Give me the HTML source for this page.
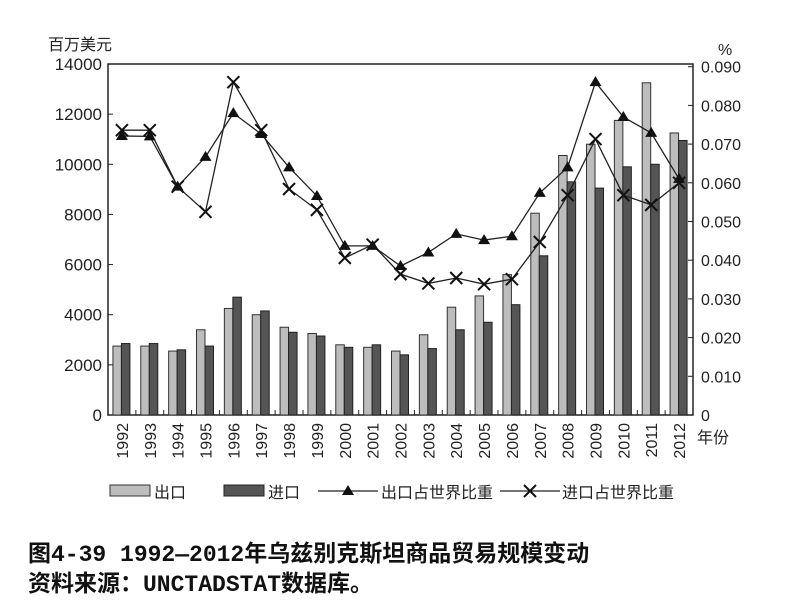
<!DOCTYPE html>
<html><head><meta charset="utf-8"><style>
body{margin:0;background:#fff;width:800px;height:600px;overflow:hidden;font-family:"Liberation Sans","Noto Sans CJK SC",sans-serif}
svg text{font-family:"Liberation Sans","Noto Sans CJK SC",sans-serif;fill:#222}
.cap{position:absolute;left:28px;font-size:23px;font-weight:bold;color:#111;font-family:"Liberation Mono","Noto Sans CJK SC",monospace;white-space:nowrap}
</style></head><body>
<svg id="chart" width="800" height="520" style="position:absolute;left:0;top:0"></svg>
<div class="cap" style="top:534px">图4-39  1992—2012年乌兹别克斯坦商品贸易规模变动</div>
<div class="cap" style="top:564px">资料来源：UNCTADSTAT数据库。</div>
<script>
const years=["1992","1993","1994","1995","1996","1997","1998","1999","2000","2001","2002","2003","2004","2005","2006","2007","2008","2009","2010","2011","2012"];
const exports=[2750,2750,2550,3400,4250,4000,3500,3250,2800,2700,2550,3200,4300,4750,5600,8050,10350,10800,11750,13250,11250];
const imports=[2850,2850,2600,2750,4700,4150,3300,3150,2700,2800,2400,2650,3400,3700,4400,6350,9300,9050,9900,10000,10950];
const exportShare=[0.0721,0.0720,0.0590,0.0667,0.0780,0.0726,0.0640,0.0566,0.0437,0.0437,0.0385,0.0420,0.0468,0.0452,0.0462,0.0574,0.0640,0.0860,0.0770,0.0729,0.0610];
const importShare=[0.0736,0.0736,0.0590,0.0525,0.0860,0.0736,0.0584,0.0530,0.0406,0.0440,0.0364,0.0340,0.0354,0.0338,0.0351,0.0447,0.0568,0.0713,0.0568,0.0543,0.0600];
const leftTicks=[0,2000,4000,6000,8000,10000,12000,14000];
const rightTicks=["0","0.010","0.020","0.030","0.040","0.050","0.060","0.070","0.080","0.090"];
const NS="http://www.w3.org/2000/svg";
const svg=document.getElementById('chart');
const X0=108,X1=693,Y0=415,Y1=64;
const band=(X1-X0)/years.length;
const yL=v=>Y0-v/14000*(Y0-Y1);
const yR=v=>Y0-v*3870;
const xc=i=>X0+band*(i+0.5);
function mk(t,a,p){const e=document.createElementNS(NS,t);for(const k in a)e.setAttribute(k,a[k]);(p||svg).appendChild(e);return e;}
let r=mk('rect',{x:X0,y:Y1,width:X1-X0,height:Y0-Y1,fill:'none',stroke:'#222','stroke-width':1.5});


leftTicks.forEach(v=>{const y=yL(v);
 let l=mk('line',{x1:X0,x2:X0+5,y1:y,y2:y,stroke:'#222'});
 
 
 let t=mk('text',{x:X0-6,y:y+6,'text-anchor':'end','font-size':17});t.textContent=v;
 
 });
rightTicks.forEach(s=>{const y=yR(parseFloat(s));
 let l=mk('line',{x1:X1-5,x2:X1,y1:y,y2:y,stroke:'#222'});
 
 
 let t=mk('text',{x:X1+8,y:y+6,'font-size':16});t.textContent=s;
 
 });
let t1=mk('text',{x:48,y:50,'font-size':16});t1.textContent='百万美元';


let t2=mk('text',{x:718,y:55,'font-size':16});t2.textContent='%';


let t3=mk('text',{x:697,y:443,'font-size':16});t3.textContent='年份';


years.forEach((yr,i)=>{
 const c=xc(i);
 if(i>0){let l=mk('line',{x1:X0+band*i,x2:X0+band*i,y1:Y0,y2:Y0-5,stroke:'#222'});
  
  }
 let b1=mk('rect',{x:c-9,y:yL(exports[i]),width:8.5,height:Y0-yL(exports[i]),fill:'#bdbdbd',stroke:'#333','stroke-width':1});
 
 
 let b2=mk('rect',{x:c-0.5,y:yL(imports[i]),width:8.5,height:Y0-yL(imports[i]),fill:'#555',stroke:'#222','stroke-width':1});
 
 
 let t=mk('text',{x:0,y:0,'font-size':16,'text-anchor':'end',transform:`translate(${c+6},${Y0+8}) rotate(-90)`});t.textContent=yr;
 
 
});
let p1=mk('polyline',{points:exportShare.map((v,i)=>xc(i)+','+yR(v)).join(' '),fill:'none',stroke:'#222','stroke-width':1.3});


let p2=mk('polyline',{points:importShare.map((v,i)=>xc(i)+','+yR(v)).join(' '),fill:'none',stroke:'#222','stroke-width':1.3});


function tri(x,y,n){let m=mk('polygon',{points:`${x},${y-6} ${x-6},${y+4} ${x+6},${y+4}`,fill:'#111'});
 
 }
function cross(x,y,n){let m=mk('path',{d:`M${x-6},${y-6}L${x+6},${y+6}M${x-6},${y+6}L${x+6},${y-6}`,stroke:'#111','stroke-width':2});
 
 }
exportShare.forEach((v,i)=>tri(xc(i),yR(v),'export-share-point'));
importShare.forEach((v,i)=>cross(xc(i),yR(v),'import-share-point'));
const lg=mk('g',{});


let a=mk('rect',{x:110,y:485,width:40,height:11,fill:'#bdbdbd',stroke:'#333'},lg);


let at=mk('text',{x:154,y:498,'font-size':16},lg);at.textContent='出口';


let b=mk('rect',{x:224,y:485,width:40,height:11,fill:'#555',stroke:'#222'},lg);


let bt=mk('text',{x:268,y:498,'font-size':16},lg);bt.textContent='进口';


let c1=mk('line',{x1:318,x2:378,y1:491,y2:491,stroke:'#222','stroke-width':1.3},lg);


tri(348,491,'legend-export-share-marker');
let ct=mk('text',{x:381,y:498,'font-size':16},lg);ct.textContent='出口占世界比重';


let d1=mk('line',{x1:500,x2:560,y1:491,y2:491,stroke:'#222','stroke-width':1.3},lg);


cross(530,491,'legend-import-share-marker');
let dt=mk('text',{x:562,y:498,'font-size':16},lg);dt.textContent='进口占世界比重';


</script>
</body></html>
